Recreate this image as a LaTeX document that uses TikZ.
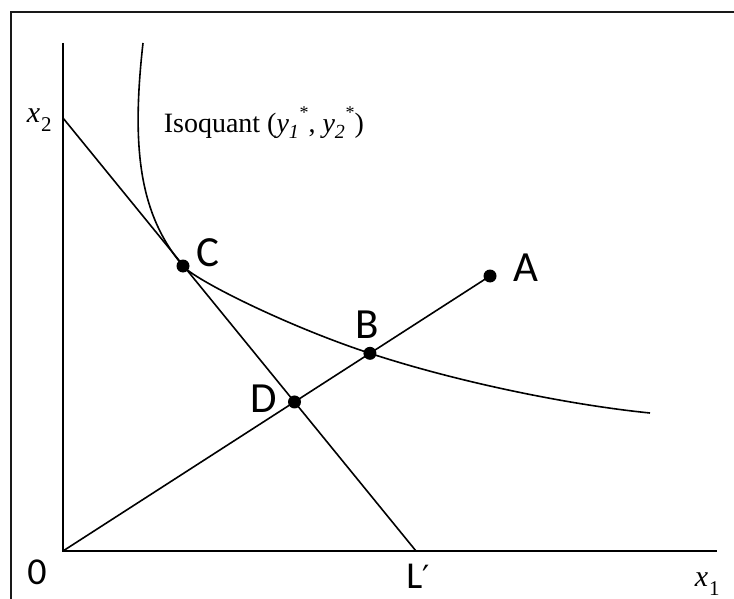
\documentclass[tikz,border=0pt]{standalone}
\usepackage{fontspec}
\setmainfont{Liberation Serif}
\newfontfamily\labfont{Carlito}
\newfontfamily\symfont{DejaVu Sans}
\usetikzlibrary{intersections}
\newcommand\ystar[1]{\textit{y}\raisebox{-0.18em}{\fontsize{20}{20}\selectfont\itshape #1}\kern0.02em\raisebox{0.5em}{\fontsize{18}{18}\selectfont *}}
\newcommand\xsub[1]{\textit{x}\kern0.03em\raisebox{-0.3em}{\fontsize{21}{21}\selectfont #1}}
\begin{document}
\begin{tikzpicture}[x=1pt,y=-1pt,line width=1.6pt,
  dot/.style={circle,fill=black,inner sep=0pt,minimum size=13pt},
  lab/.style={font=\labfont\fontsize{43}{43}\selectfont,inner sep=0pt},
  axlab/.style={font=\labfont\fontsize{38}{38}\selectfont,inner sep=0pt},
  mlab/.style={font=\fontsize{30}{30}\selectfont,inner sep=0pt,anchor=base west},
  isotext/.style={font=\fontsize{28}{28}\selectfont,inner sep=0pt,anchor=base west},
  framestyle/.style={line width=2.6pt,color=black!90}]
\useasboundingbox (0,0) rectangle (734,599);
% frame
\draw[framestyle] (11,599) -- (11,12) -- (734,12);
% coordinates
\coordinate (O) at (63,551);
\coordinate (ytop) at (63,43);
\coordinate (xend) at (717,551);
\coordinate (X2) at (63,118);
\coordinate (L) at (416,551);
\coordinate (Apt) at (490,276);
\coordinate (Cpt) at (183,266);
\coordinate (isotop) at (143,43);
\coordinate (isoend) at (650,413);
\coordinate (isomid) at (366,352);
% axes
\draw (ytop) -- (O) -- (xend);
% budget line
\draw (X2) -- (L);
% ray
\draw[name path=ray] (O) -- (Apt);
% isoquant
\draw[name path=iso] (isotop) .. controls (131,150) and (140,215) .. (Cpt)
  .. controls (195,280) and (285,325) .. (isomid)
  .. controls (456,382) and (570,405) .. (isoend);
\path[name intersections={of=ray and iso,by=Bpt}];
\coordinate (Dpt) at (intersection of O--Apt and X2--L);
% dots
\node[dot] (A) at (Apt) {};
\node[dot] (B) at (Bpt) {};
\node[dot] (C) at (Cpt) {};
\node[dot] (D) at (Dpt) {};
% labels
\node[lab] (Alab) at (526,268) {A};
\node[lab] (Blab) at (367,325) {B};
\node[lab] (Clab) at (208,253) {C};
\node[lab] (Dlab) at (264,399) {D};
\node[axlab] (Llab) at (418,576) {L{\symfont\fontsize{32}{32}\selectfont ′}};
\node[axlab] (zero) at (37,572) {0};
\node[mlab] (x2lab) at (26,123) {\xsub{2}};
\node[mlab] (x1lab) at (694,586) {\xsub{1}};
\node[isotext] (isoq) at (163,133) {Isoquant (\ystar{1}, \ystar{2})};
\end{tikzpicture}
\end{document}
